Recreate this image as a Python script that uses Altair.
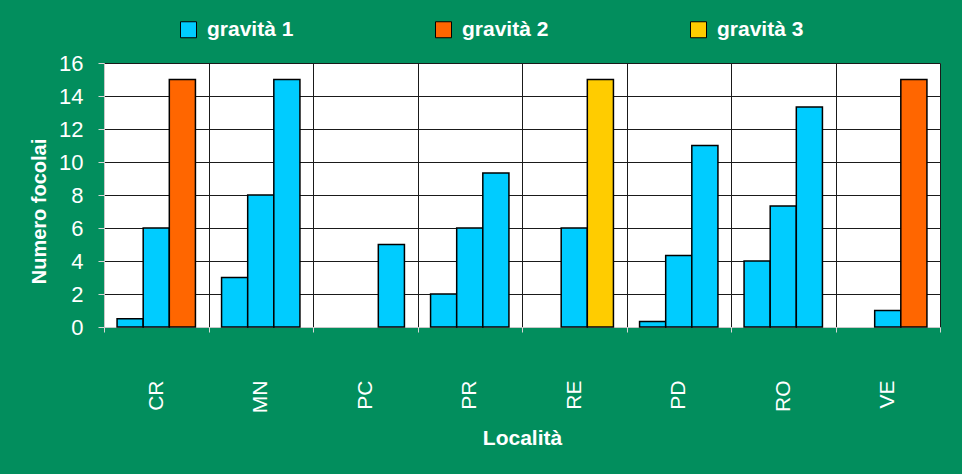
import altair as alt
import pandas as pd

# ---- data ----
localita = ["CR", "MN", "PC", "PR", "RE", "PD", "RO", "VE"]
bar1_values = [0.5, 3, 0, 2, 0, 0.33, 4, 0]
bar2_values = [6, 8, 0, 6, 6, 4.33, 7.33, 1]
bar3_values = [15, 15, 5, 9.33, 15, 11, 13.33, 15]
bar1_gravita = ["gravità 1"] * 8
bar2_gravita = ["gravità 1"] * 8
bar3_gravita = ["gravità 2", "gravità 1", "gravità 1", "gravità 1",
                "gravità 3", "gravità 1", "gravità 1", "gravità 2"]
series = ["gravità 1", "gravità 2", "gravità 3"]
series_colors = ["#00CCFF", "#FF6600", "#FFCC00"]
y_ticks = [0, 2, 4, 6, 8, 10, 12, 14, 16]

rows = []
for slot, vals, gravs in [(1, bar1_values, bar1_gravita),
                          (2, bar2_values, bar2_gravita),
                          (3, bar3_values, bar3_gravita)]:
    for loc, v, g in zip(localita, vals, gravs):
        rows.append({"Località": loc, "slot": slot, "valore": v, "gravità": g})
df = pd.DataFrame(rows)

FONT = "Liberation Sans"
GREEN = "#028E5D"

chart = (
    alt.Chart(df)
    .transform_filter(alt.datum.valore > 0)
    .mark_bar(stroke="black", strokeWidth=1.5)
    .encode(
        x=alt.X(
            "Località:N",
            sort=localita,
            scale=alt.Scale(paddingInner=0, paddingOuter=0),
            axis=alt.Axis(
                title="Località",
                titleFontSize=21,
                titleFontWeight="bold",
                titleColor="white",
                titleFont=FONT,
                titleBaseline="alphabetic",
                titleY=117,
                labelAngle=270,
                labelAlign="right",
                labelBaseline="middle",
                labelFontSize=21,
                labelColor="white",
                labelFont=FONT,
                labelPadding=48,
                tickBand="extent",
                tickSize=5,
                tickColor="#d8d8d8",
                domainColor="#c8c8c8",
                grid=True,
                gridColor="#1a1a1a",
                gridWidth=1,
            ),
        ),
        xOffset=alt.XOffset(
            "slot:O",
            scale=alt.Scale(domain=[1, 2, 3], paddingInner=0, paddingOuter=0.5),
        ),
        y=alt.Y(
            "valore:Q",
            scale=alt.Scale(domain=[0, 16], nice=False),
            axis=alt.Axis(
                values=y_ticks,
                title="Numero focolai",
                titleFontSize=20,
                titleFontWeight="bold",
                titleColor="white",
                titleFont=FONT,
                titleAngle=270,
                titleAlign="center",
                titleBaseline="alphabetic",
                titleX=-59,
                titleY=148,
                labelFontSize=22,
                labelColor="white",
                labelFont=FONT,
                labelPadding=15,
                tickSize=6,
                tickColor="#d8d8d8",
                domainColor="#c8c8c8",
                grid=True,
                gridColor="#1a1a1a",
                gridWidth=1,
            ),
        ),
        color=alt.Color(
            "gravità:N",
            scale=alt.Scale(domain=series, range=series_colors),
            legend=alt.Legend(
                title=None,
                orient="none",
                legendX=74,
                legendY=-44,
                direction="horizontal",
                symbolType="square",
                symbolSize=256,
                symbolStrokeColor="black",
                symbolStrokeWidth=1,
                labelFontSize=21,
                labelFontWeight="bold",
                labelColor="white",
                labelFont=FONT,
                labelOffset=8,
                columnPadding=139,
                padding=0,
            ),
        ),
    )
    .properties(
        width=836,
        height=264,
        background=GREEN,
        padding={"left": 104, "top": 63, "right": 22, "bottom": 147},
        autosize=alt.AutoSizeParams(type="none"),
    )
    .configure_view(fill="white", stroke="#8a8a8a", strokeWidth=1)
)

chart.save("out.html", embed_options={"renderer": "svg", "actions": False})
